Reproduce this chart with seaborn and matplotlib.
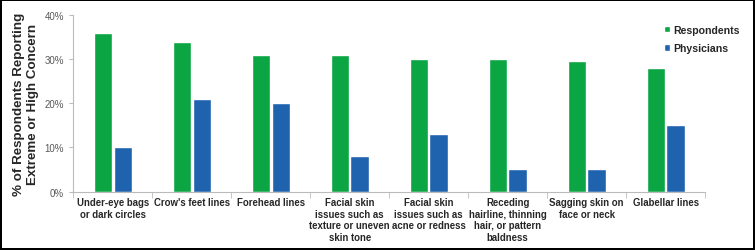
import matplotlib
matplotlib.use('Agg')
import matplotlib.pyplot as plt
import seaborn as sns
import pandas as pd
from matplotlib.ticker import PercentFormatter, MultipleLocator

categories = [
    "Under-eye bags\nor dark circles",
    "Crow's feet lines",
    "Forehead lines",
    "Facial skin\nissues such as\ntexture or uneven\nskin tone",
    "Facial skin\nissues such as\nacne or redness",
    "Receding\nhairline, thinning\nhair, or pattern\nbaldness",
    "Sagging skin on\nface or neck",
    "Glabellar lines",
]
respondents = [36, 34, 31, 31, 30, 30, 29.6, 28]
physicians = [10, 21, 20, 8, 13, 5, 5, 15]
series = ["Respondents", "Physicians"]
colors = ["#0BA544", "#1F63AF"]

df = pd.DataFrame({
    "category": categories * 2,
    "value": respondents + physicians,
    "group": [series[0]] * len(categories) + [series[1]] * len(categories),
})

sns.set_style("white")
plt.rcParams['font.family'] = ['Liberation Sans', 'DejaVu Sans']

fig = plt.figure(figsize=(7.55, 2.51), dpi=100, linewidth=1.5, edgecolor='black')
ax = fig.add_axes([0.097, 0.233, 0.837, 0.703])

sns.barplot(data=df, x="category", y="value", hue="group", palette=colors,
            width=0.5, gap=0.08, ax=ax, saturation=1, legend=True)

ax.set_ylim(0, 40)
ax.set_xlim(-0.5, len(categories) - 0.5)
ax.yaxis.set_major_locator(MultipleLocator(10))
ax.yaxis.set_major_formatter(PercentFormatter(decimals=0))
ax.tick_params(axis='y', labelsize=7, labelcolor='#595959', length=3, color='#bbbbbb', left=True)
ax.tick_params(axis='x', labelsize=6.9, length=0, pad=4)
for lab in ax.get_xticklabels():
    lab.set_fontweight('bold')
ax.set_xticks([i - 0.5 for i in range(len(categories) + 1)], minor=True)
ax.tick_params(axis='x', which='minor', bottom=True, length=4, color='#bbbbbb')

sns.despine(ax=ax, top=True, right=True)
for s in ['left', 'bottom']:
    ax.spines[s].set_color('#bbbbbb')
    ax.spines[s].set_linewidth(0.8)

ax.set_xlabel("")
ax.set_ylabel("% of Respondents Reporting\nExtreme or High Concern", fontsize=9.6,
              fontweight='bold', labelpad=4)

leg = ax.legend(loc='upper left', bbox_to_anchor=(0.928, 0.97), frameon=False,
                fontsize=7.6, handlelength=0.6, handleheight=0.6, handletextpad=0.3,
                labelspacing=0.8, borderaxespad=0)
for t in leg.get_texts():
    t.set_fontweight('bold')

fig.savefig("out.png", dpi=100, edgecolor=fig.get_edgecolor())
